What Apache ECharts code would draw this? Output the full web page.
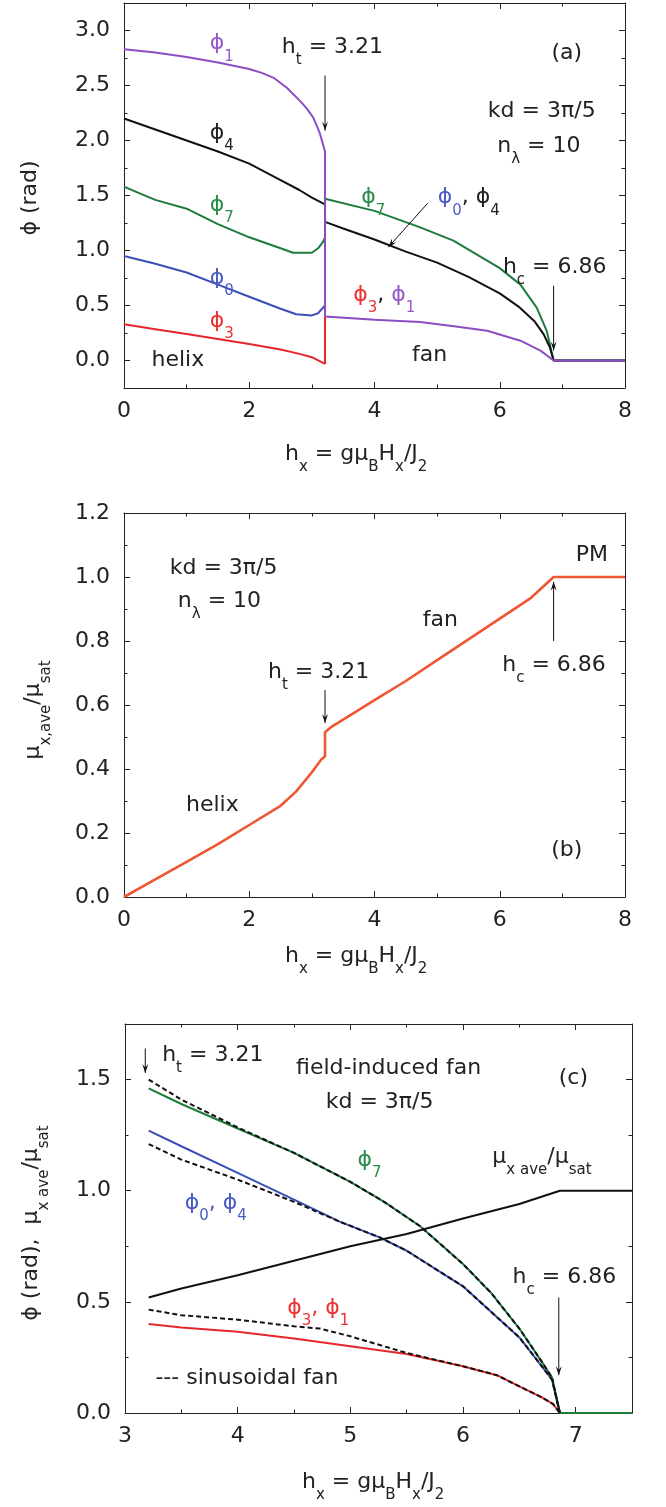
<!DOCTYPE html>
<html><head><meta charset="utf-8">
<script src="https://cdn.jsdelivr.net/npm/echarts@6/dist/echarts.min.js"></script>
<style>html,body{margin:0;padding:0;background:#fff}#c{width:666px;height:1507px}</style>
</head><body><div id="c"></div>
<script>
// ---------- Panel (a): angles vs field, kd = 3pi/5 ----------
const phi3A = [[0,0.33],[0.5,0.285],[1,0.24],[1.5,0.195],[2,0.15],[2.5,0.10],[2.8,0.06],[3.0,0.03],[3.21,-0.03],[3.21,0.40]];
const phi0A = [[0,0.95],[0.5,0.88],[1,0.80],[1.5,0.69],[2,0.58],[2.5,0.47],[2.75,0.42],[3.0,0.41],[3.1,0.43],[3.21,0.50]];
const phi7A = [[0,1.58],[0.25,1.52],[0.5,1.46],[1,1.38],[1.5,1.24],[2,1.12],[2.5,1.02],[2.7,0.98],[3.0,0.98],[3.1,1.02],[3.18,1.08],[3.21,1.12],[3.21,1.47],[4,1.36],[4.73,1.21],[5.26,1.09],[6,0.84],[6.33,0.69],[6.59,0.48],[6.75,0.27],[6.86,0],[8,0]];
const phi4A = [[0,2.20],[0.5,2.10],[1,2.00],[1.5,1.90],[2,1.79],[2.5,1.64],[2.8,1.55],[3.0,1.48],[3.21,1.42],[3.21,1.26],[3.5,1.20],[4,1.10],[4.5,0.99],[5,0.89],[5.5,0.76],[6,0.61],[6.3,0.49],[6.55,0.36],[6.7,0.24],[6.8,0.12],[6.86,0],[8,0]];
const phi1A = [[0,2.83],[0.5,2.80],[1,2.76],[1.5,2.71],[2,2.65],[2.2,2.615],[2.39,2.57],[2.6,2.48],[2.81,2.36],[2.92,2.29],[3.02,2.21],[3.09,2.12],[3.13,2.06],[3.18,1.96],[3.21,1.90],[3.21,0.40],[4,0.37],[4.73,0.35],[5.3,0.31],[5.8,0.27],[6.33,0.18],[6.65,0.09],[6.86,0],[8,0]];
// ---------- Panel (b): magnetization ----------
const muB = [[0,0],[0.5,0.055],[1,0.11],[1.5,0.165],[2,0.225],[2.5,0.285],[2.75,0.33],[3.0,0.39],[3.15,0.43],[3.21,0.44],[3.21,0.515],[3.3,0.53],[4,0.615],[4.5,0.675],[5,0.74],[5.5,0.805],[6,0.87],[6.5,0.935],[6.86,1.0],[8,1.0]];
// ---------- Panel (c): field-induced fan ----------
const phi7C = [[3.21,1.46],[3.5,1.39],[4,1.28],[4.5,1.17],[5,1.04],[5.3,0.95],[5.62,0.84],[6,0.67],[6.25,0.54],[6.5,0.38],[6.7,0.23],[6.79,0.16],[6.86,0],[7.5,0]];
const phi04C = [[3.21,1.27],[3.5,1.20],[4,1.08],[4.5,0.96],[4.91,0.86],[5.26,0.79],[5.5,0.73],[6,0.57],[6.5,0.34],[6.7,0.21],[6.79,0.15],[6.86,0],[7.5,0]];
const phi31C = [[3.21,0.40],[3.5,0.385],[4,0.365],[4.5,0.335],[5,0.30],[5.5,0.265],[6,0.21],[6.3,0.17],[6.5,0.12],[6.7,0.07],[6.8,0.04],[6.86,0],[7.5,0]];
const muC = [[3.21,0.52],[3.5,0.56],[4,0.62],[4.5,0.685],[5,0.75],[5.5,0.805],[6,0.875],[6.5,0.94],[6.86,1.0],[7.5,1.0]];
const sin7C = [[3.21,1.50],[3.5,1.41],[4,1.285],[4.5,1.17],[5,1.04],[5.3,0.95],[5.62,0.84],[6,0.67],[6.25,0.54],[6.5,0.38],[6.7,0.23],[6.79,0.16],[6.86,0]];
const sin04C = [[3.21,1.21],[3.5,1.14],[4,1.05],[4.5,0.95],[4.91,0.86],[5.26,0.79],[5.5,0.73],[6,0.57],[6.5,0.34],[6.7,0.21],[6.79,0.15],[6.86,0]];
const sin31C = [[3.21,0.465],[3.5,0.44],[4,0.42],[4.5,0.39],[4.73,0.38],[5,0.345],[5.5,0.27],[6,0.21],[6.3,0.17],[6.5,0.12],[6.7,0.07],[6.8,0.04],[6.86,0]];
// ---------- tick values ----------
const xMajA = [0,2,4,6,8], xMinA = [1,3,5,7];
const yMajA = [0,0.5,1,1.5,2,2.5,3], yMinA = [0.25,0.75,1.25,1.75,2.25,2.75];
const xMajB = [0,2,4,6,8], xMinB = [1,3,5,7];
const yMajB = [0,0.2,0.4,0.6,0.8,1.0,1.2], yMinB = [0.1,0.3,0.5,0.7,0.9,1.1];
const xMajC = [3,4,5,6,7], xMinC = [3.5,4.5,5.5,6.5];
const yMajC = [0,0.5,1,1.5], yMinC = [0.25,0.75,1.25];

const FONT = '"DejaVu Sans", "Liberation Sans", Arial, sans-serif';
const COL = {purple:'#8e4dc2', green:'#1d7b3e', blue:'#3b4eb8', red:'#e6262b', black:'#111111', orange:'#ef5631'};
const TCOL = {purple:'#9a5ac9', green:'#2a8c4b', blue:'#4a5cc2', red:'#ec3131', black:'#222222'};
const AX = '#222';
const TICKFS = 22;

const grids = [
  {left:124, top:3, width:501, height:385},
  {left:124, top:513, width:501, height:384},
  {left:125, top:1024, width:507, height:389}
];

function axes(gi, dim, min, max, major, minor, fmt) {
  const pos = dim === 'x' ? ['bottom','top'] : ['left','right'];
  const out = [];
  pos.forEach((p, pi) => {
    out.push({type:'value', gridIndex:gi, position:p, min, max,
      axisLine:{show:true, onZero:false, lineStyle:{color:AX, width:1}},
      axisTick:{show:true, inside:true, length:6, customValues:major, lineStyle:{color:AX, width:1}},
      axisLabel:{show:pi===0, customValues:major, formatter:fmt, margin: dim === 'x' ? 12 : 14, fontSize:TICKFS, color:'#222', fontFamily:FONT},
      splitLine:{show:false}, minorTick:{show:false}});
    out.push({type:'value', gridIndex:gi, position:p, min, max,
      axisLine:{show:false, onZero:false},
      axisTick:{show:true, inside:true, length:3.5, customValues:minor, lineStyle:{color:AX, width:1}},
      axisLabel:{show:false}, splitLine:{show:false}, minorTick:{show:false}});
  });
  return out;
}
const f0 = v => String(Math.round(v));
const f1 = v => v.toFixed(1);

const xAxes = [].concat(axes(0,'x',0,8,xMajA,xMinA,f0), axes(1,'x',0,8,xMajB,xMinB,f0), axes(2,'x',3,7.5,xMajC,xMinC,f0));
const yAxes = [].concat(axes(0,'y',-0.25,3.25,yMajA,yMinA,f1), axes(1,'y',0,1.2,yMajB,yMinB,f1), axes(2,'y',0,1.75,yMajC,yMinC,f1));

function line(data, gi, color, width, dashed) {
  return {type:'line', xAxisIndex:gi*4, yAxisIndex:gi*4, data, symbol:'none', showSymbol:false,
    lineStyle:{color, width, type: dashed ? [5,3] : 'solid'}, silent:true, animation:false, clip:true};
}
const series = [
  line(phi3A,0,COL.red,2), line(phi0A,0,COL.blue,2), line(phi7A,0,COL.green,2), line(phi4A,0,COL.black,2), line(phi1A,0,COL.purple,2),
  line(muB,1,COL.orange,2.6),
  line(phi31C,2,COL.red,2), line(phi04C,2,COL.blue,2), line(phi7C,2,COL.green,2), line(muC,2,COL.black,2),
  line(sin31C,2,COL.black,2,true), line(sin04C,2,COL.black,2,true), line(sin7C,2,COL.black,2,true)
];
const SA = 0, SB = 5, SC = 6;

const chart = echarts.init(document.getElementById('c'), null, {renderer:'canvas'});
chart.setOption({animation:false, backgroundColor:'#fff',
  grid: grids.map(g => Object.assign({outerBoundsMode:'none', containLabel:false}, g)),
  xAxis: xAxes, yAxis: yAxes, series});

// ---------- annotations ----------
const FS = 22, SFS = 15, SUBDROP = 26;
const G = [];
function P(si, x, y) { return chart.convertToPixel({seriesIndex: si}, [x, y]); }
function rich(segs) {
  const r = {}; let s = '';
  segs.forEach((sg, i) => {
    const t = sg[0], k = sg[1] || 'n', c = sg[2] || '#222';
    const nm = 'k' + i;
    r[nm] = k === 's'
      ? {fontSize:SFS, lineHeight:SFS, padding:[SUBDROP,0,0,0], fill:c, fontFamily:FONT}
      : {fontSize:FS, lineHeight:24, fill:c, fontFamily:FONT};
    s += '{' + nm + '|' + t + '}';
  });
  return {s, r};
}
function text(pt, segs, align, rot) {
  const R = rich(segs);
  G.push({type:'text', silent:true, z:100, rotation: rot || 0, x: pt[0], y: pt[1],
    style:{text:R.s, rich:R.r, align:align || 'left', verticalAlign:'middle', fontFamily:FONT, fontSize:FS, fill:'#222'}});
}
function arrow(p0, p1) {
  G.push({type:'line', silent:true, z:100, shape:{x1:p0[0], y1:p0[1], x2:p1[0], y2:p1[1]}, style:{stroke:'#111', lineWidth:1}});
  const dx = p1[0]-p0[0], dy = p1[1]-p0[1], L = Math.hypot(dx,dy), ux = dx/L, uy = dy/L, hl = 9, hw = 3;
  G.push({type:'polygon', silent:true, z:100, shape:{points:[
    [p1[0], p1[1]],
    [p1[0]-ux*hl-uy*hw, p1[1]-uy*hl+ux*hw],
    [p1[0]-ux*hl*0.6, p1[1]-uy*hl*0.6],
    [p1[0]-ux*hl+uy*hw, p1[1]-uy*hl-ux*hw]]}, style:{fill:'#111'}});
}
const PH = '\u03D5';
// panel (a)
text(P(SA,1.56,2.88), [[PH,'n',TCOL.purple],['1','s',TCOL.purple]], 'center');
text(P(SA,2.52,2.85), [['h'],['t','s'],[' = 3.21']]);
arrow(P(SA,3.21,2.59), P(SA,3.21,2.09));
text(P(SA,7.07,2.79), [['(a)']], 'center');
text(P(SA,5.81,2.27), [['kd = 3\u03C0/5']]);
text(P(SA,5.96,1.95), [['n'],['\u03BB','s'],[' = 10']]);
text(P(SA,1.56,2.07), [[PH,'n',TCOL.black],['4','s',TCOL.black]], 'center');
text(P(SA,1.56,1.41), [[PH,'n',TCOL.green],['7','s',TCOL.green]], 'center');
text(P(SA,1.56,0.75), [[PH,'n',TCOL.blue],['0','s',TCOL.blue]], 'center');
text(P(SA,1.56,0.36), [[PH,'n',TCOL.red],['3','s',TCOL.red]], 'center');
text(P(SA,0.86,0.0), [['helix']], 'center');
text(P(SA,3.98,1.48), [[PH,'n',TCOL.green],['7','s',TCOL.green]], 'center');
text(P(SA,5.01,1.48), [[PH,'n',TCOL.blue],['0','s',TCOL.blue],[', '+PH,'n',TCOL.black],['4','s',TCOL.black]]);
arrow(P(SA,4.85,1.43), P(SA,4.22,1.03));
text(P(SA,6.05,0.85), [['h'],['c','s'],[' = 6.86']]);
arrow(P(SA,6.86,0.68), P(SA,6.86,0.09));
text(P(SA,3.66,0.59), [[PH,'n',TCOL.red],['3','s',TCOL.red],[', ','n',TCOL.black],[PH,'n',TCOL.purple],['1','s',TCOL.purple]]);
text(P(SA,4.88,0.045), [['fan']], 'center');
// panel (b)
text(P(SB,0.73,1.028), [['kd = 3\u03C0/5']]);
text(P(SB,0.86,0.925), [['n'],['\u03BB','s'],[' = 10']]);
text(P(SB,2.30,0.703), [['h'],['t','s'],[' = 3.21']]);
arrow(P(SB,3.21,0.647), P(SB,3.21,0.544));
text(P(SB,1.41,0.2875), [['helix']], 'center');
text(P(SB,5.05,0.866), [['fan']], 'center');
text(P(SB,7.47,1.069), [['PM']], 'center');
text(P(SB,6.04,0.725), [['h'],['c','s'],[' = 6.86']]);
arrow(P(SB,6.86,0.80), P(SB,6.86,0.985));
text(P(SB,7.07,0.147), [['(b)']], 'center');
// panel (c)
arrow(P(SC,3.18,1.64), P(SC,3.18,1.53));
text(P(SC,3.33,1.61), [['h'],['t','s'],[' = 3.21']]);
text(P(SC,5.34,1.552), [['field-induced fan']], 'center');
text(P(SC,5.26,1.40), [['kd = 3\u03C0/5']], 'center');
text(P(SC,6.98,1.507), [['(c)']], 'center');
text(P(SC,5.17,1.138), [[PH,'n',TCOL.green],['7','s',TCOL.green]], 'center');
text(P(SC,6.26,1.15), [['\u03BC'],['x ave','s'],['/\u03BC'],['sat','s']]);
text(P(SC,3.53,0.945), [[PH,'n',TCOL.blue],['0','s',TCOL.blue],[', '+PH,'n',TCOL.blue],['4','s',TCOL.blue]]);
text(P(SC,6.44,0.612), [['h'],['c','s'],[' = 6.86']]);
arrow(P(SC,6.85,0.52), P(SC,6.85,0.17));
text(P(SC,4.44,0.472), [[PH,'n',TCOL.red],['3','s',TCOL.red],[', '+PH,'n',TCOL.red],['1','s',TCOL.red]]);
text(P(SC,3.27,0.157), [['--- sinusoidal fan']]);
// axis titles
const xt = [['h'],['x','s'],[' = g\u03BC'],['B','s'],['H'],['x','s'],['/J'],['2','s']];
text([285, grids[0].top + grids[0].height + 66], xt);
text([285, grids[1].top + grids[1].height + 59], xt);
text([302, grids[2].top + grids[2].height + 69], xt);
text([30, 198], [[PH + ' (rad)']], 'center', Math.PI/2);
text([33, 710], [['\u03BC'],['x,ave','s'],['/\u03BC'],['sat','s']], 'center', Math.PI/2);
text([31, 1223], [[PH + ' (rad),  \u03BC'],['x ave','s'],['/\u03BC'],['sat','s']], 'center', Math.PI/2);

chart.setOption({graphic: G});
</script></body></html>
